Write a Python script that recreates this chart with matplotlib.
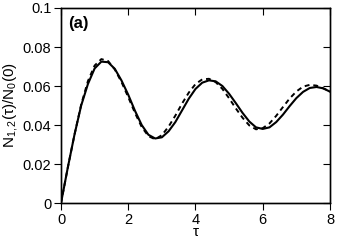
import matplotlib
matplotlib.use('Agg')
import matplotlib.pyplot as plt

# values (tau step 0.2)
tau = [0.0, 0.2, 0.4, 0.6, 0.8, 1.0, 1.2, 1.4, 1.6, 1.8, 2.0, 2.2, 2.4, 2.6, 2.8,
       3.0, 3.2, 3.4, 3.6, 3.8, 4.0, 4.2, 4.4, 4.6, 4.8, 5.0, 5.2, 5.4, 5.6, 5.8,
       6.0, 6.2, 6.4, 6.6, 6.8, 7.0, 7.2, 7.4, 7.6, 7.8, 8.0]
n_solid = [0.0, 0.018, 0.035, 0.050, 0.061, 0.0690, 0.0725, 0.0722, 0.0688, 0.0628,
           0.0555, 0.0473, 0.0400, 0.0350, 0.0331, 0.0337, 0.0368, 0.0415, 0.0475,
           0.0535, 0.0585, 0.0617, 0.0629, 0.0624, 0.0600, 0.0560, 0.0512, 0.0462,
           0.0418, 0.0388, 0.0380, 0.0388, 0.0415, 0.0453, 0.0497, 0.0538, 0.0570,
           0.0590, 0.0595, 0.0588, 0.0571]
n_dashed = [0.0, 0.018, 0.035, 0.0505, 0.0625, 0.0705, 0.0738, 0.0728, 0.0685, 0.0620,
            0.0543, 0.0462, 0.0390, 0.0343, 0.0327, 0.0348, 0.0392, 0.0448, 0.0510,
            0.0566, 0.0610, 0.0634, 0.0637, 0.0620, 0.0585, 0.0537, 0.0485, 0.0437,
            0.0398, 0.0378, 0.0384, 0.0408, 0.0447, 0.0492, 0.0536, 0.0572, 0.0597,
            0.0606, 0.0602, 0.0588, 0.0572]

xticks = [0, 2, 4, 6, 8]
yticks = [0, 0.02, 0.04, 0.06, 0.08, 0.1]
ytick_labels = ['0', '0.02', '0.04', '0.06', '0.08', '0.1']

plt.rcParams['font.family'] = ['Liberation Sans', 'DejaVu Sans']
plt.rcParams['mathtext.fontset'] = 'custom'
plt.rcParams['mathtext.rm'] = 'Liberation Sans'
plt.rcParams['mathtext.it'] = 'Liberation Sans'

fig = plt.figure(figsize=(3.38, 2.40), dpi=100)
ax = fig.add_axes([0.1805, 0.154, 0.7958, 0.8127])

ax.plot(tau, n_dashed, color='black', lw=1.4, ls=(0, (2.5, 2)))
ax.plot(tau, n_solid, color='black', lw=1.5)

ax.set_xlim(0, 8)
ax.set_ylim(0, 0.1)
ax.set_xticks(xticks)
ax.set_xticklabels([str(t) for t in xticks])
ax.set_yticks(yticks)
ax.set_yticklabels(ytick_labels)
ax.tick_params(direction='out', length=5, width=0.8, labelsize=10.5, pad=2)

# inward ticks on top and right
axt = ax.twiny()
axt.set_xlim(0, 8)
axt.set_xticks(xticks)
axt.tick_params(direction='in', length=5, width=0.8, labeltop=False)
axr = ax.twinx()
axr.set_ylim(0, 0.1)
axr.set_yticks(yticks)
axr.tick_params(direction='in', length=5, width=0.8, labelright=False)

for a in (ax, axt, axr):
    for s in a.spines.values():
        s.set_linewidth(0.9)

ax.set_xlabel('τ', fontsize=11, labelpad=-1)
ax.set_ylabel(r'N$_{1,2}$(τ)/N$_0$(0)', fontsize=11, labelpad=2)
ax.text(0.025, 0.96, '(a)', transform=ax.transAxes, fontsize=12,
        fontweight='bold', va='top', ha='left')

fig.savefig('out.png', dpi=100)
